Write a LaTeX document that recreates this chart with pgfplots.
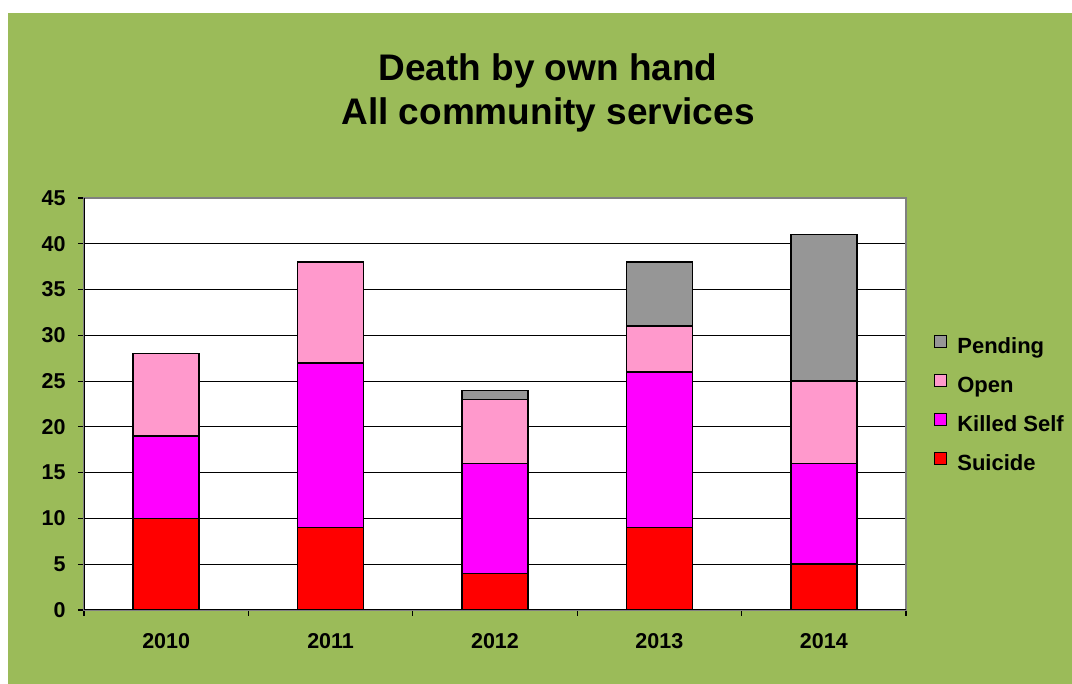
\documentclass[border=0pt]{standalone}
\usepackage{fontspec}
\setmainfont{Liberation Sans}
\usepackage{pgfplots}
\pgfplotsset{compat=1.18}
\definecolor{bggreen}{HTML}{9BBB59}
\definecolor{suicide}{HTML}{FF0000}
\definecolor{killed}{HTML}{FF00FF}
\definecolor{openc}{HTML}{FF99CC}
\definecolor{pending}{HTML}{969696}
\begin{document}
\begin{tikzpicture}[x=1pt,y=1pt]
\useasboundingbox (0,0) rectangle (1072,684);
\fill[white] (0,0) rectangle (1072,684);
\fill[bggreen] (8,0) rectangle (1072,671);
\node[anchor=base, inner sep=0pt, font=\fontsize{37}{44}\selectfont\bfseries] at (548,603) {Death by own hand};
\node[anchor=base, inner sep=0pt, font=\fontsize{37}{44}\selectfont\bfseries] at (548,559) {All community services};
\begin{axis}[
  at={(84pt,74pt)}, anchor=south west,
  scale only axis, width=822pt, height=412pt,
  axis background/.style={fill=white},
  xmin=-0.5, xmax=4.5, ymin=0, ymax=45,
  ybar stacked, bar width=66pt,
  xtick={0,1,2,3,4}, xticklabels={2010,2011,2012,2013,2014},
  major x tick style={draw=none},
  minor xtick={-0.5,0.5,1.5,2.5,3.5,4.5},
  minor x tick style={black, line width=1.2pt},
  ytick={0,5,...,45},
  major y tick style={black, line width=1.2pt},
  tick align=outside, tick pos=left,
  major tick length=6pt, minor tick length=6pt,
  ymajorgrids, major grid style={black, line width=1pt},
  axis line style={draw=gray, line width=1.5pt},
  ticklabel style={font=\fontsize{21.5}{25}\selectfont\bfseries},
  /pgf/number format/assume math mode=true,
  xticklabel style={yshift=-14pt},
  yticklabel style={xshift=-9pt},
  legend style={at={(1.034,0.497)}, anchor=west, draw=none, fill=none,
    inner sep=0pt, row sep=15pt,
    font=\fontsize{22}{26}\selectfont\bfseries,
    nodes={inner sep=0pt, text height=16pt, text depth=5pt},
    /tikz/every odd column/.append style={column sep=10pt}},
  legend cell align=left,
  reverse legend,
  mylegend/.style={legend image code/.code={\draw[##1, line width=1.2pt] (0pt,1pt) rectangle (12pt,13pt);}},
]
\addplot[fill=suicide, draw=black, line width=1.5pt, mylegend] coordinates {(0,10) (1,9) (2,4) (3,9) (4,5)};
\addplot[fill=killed, draw=black, line width=1.5pt, mylegend] coordinates {(0,9) (1,18) (2,12) (3,17) (4,11)};
\addplot[fill=openc, draw=black, line width=1.5pt, mylegend] coordinates {(0,9) (1,11) (2,7) (3,5) (4,9)};
\addplot[fill=pending, draw=black, line width=1.5pt, mylegend] coordinates {(0,0) (1,0) (2,1) (3,7) (4,16)};
\legend{Suicide,Killed Self,Open,Pending}
\draw[black, line width=1.5pt] (rel axis cs:0,1) -- (rel axis cs:0,0) -- (rel axis cs:1,0);
\end{axis}
\end{tikzpicture}
\end{document}
